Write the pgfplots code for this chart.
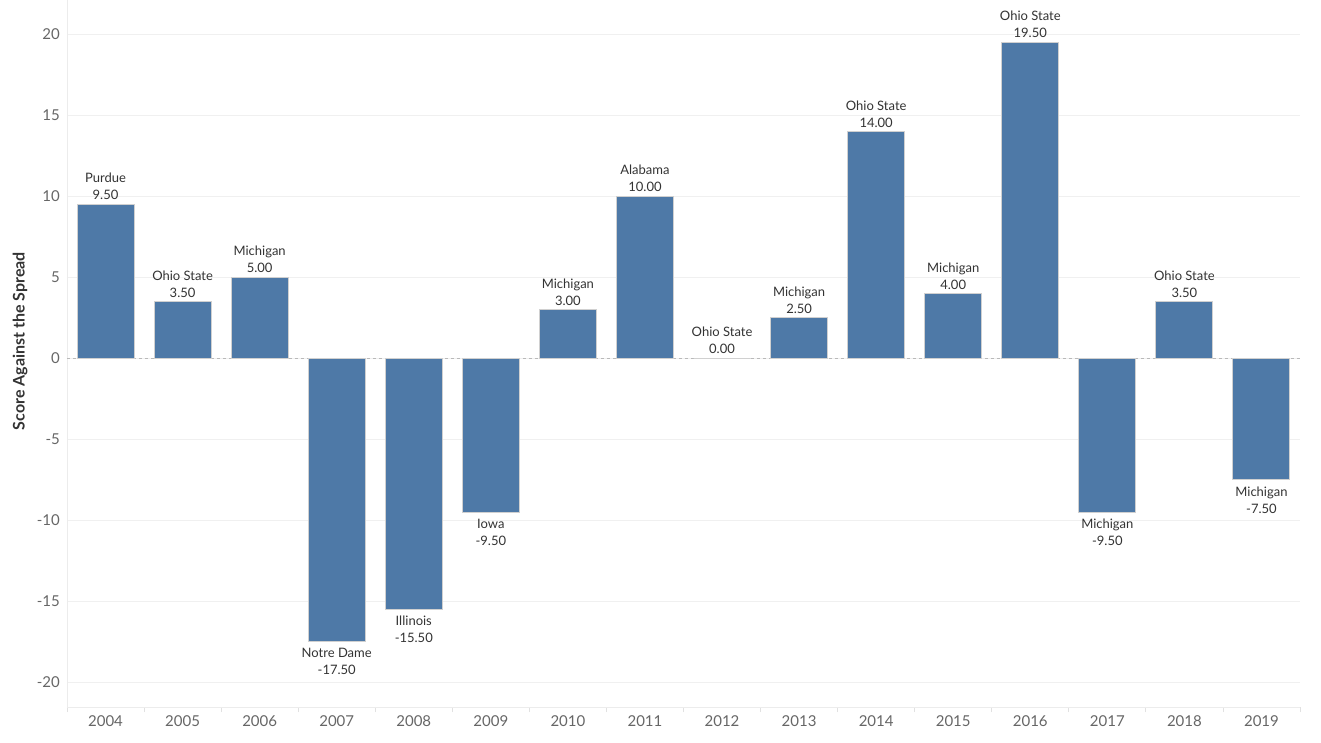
\documentclass[border=0pt]{standalone}
\usepackage{pgfplots}
\pgfplotsset{compat=1.18}
\usepackage{pgfplotstable}
\usepackage{fontspec}
\setmainfont{Lato}

\definecolor{barblue}{HTML}{4E79A7}
\definecolor{baredge}{HTML}{D0D0D0}
\definecolor{ticktext}{HTML}{666666}
\definecolor{labtext}{HTML}{333333}
\definecolor{gridc}{HTML}{F0F0F0}

% year index, score, opponent (games the spread was covered or pushed)
\pgfplotstableread[col sep=comma]{
x,y,team
0,9.5,Purdue
1,3.5,Ohio State
2,5,Michigan
6,3,Michigan
7,10,Alabama
8,0,Ohio State
9,2.5,Michigan
10,14,Ohio State
11,4,Michigan
12,19.5,Ohio State
14,3.5,Ohio State
}\spreadpos

% games the spread was missed
\pgfplotstableread[col sep=comma]{
x,y,team
3,-17.5,Notre Dame
4,-15.5,Illinois
5,-9.5,Iowa
13,-9.5,Michigan
15,-7.5,Michigan
}\spreadneg

\begin{document}
\begin{tikzpicture}
\path (0,0) rectangle (1321pt,742pt);
\begin{axis}[
    at={(67pt,35pt)}, anchor=south west,
    scale only axis,
    width=1233pt, height=707pt,
    ybar, bar width=57pt, bar shift=0pt,
    xmin=-0.5, xmax=15.5,
    ymin=-21.54, ymax=22.1,
    xtick={0,...,15},
    xticklabels={2004,2005,2006,2007,2008,2009,2010,2011,2012,2013,2014,2015,2016,2017,2018,2019},
    minor xtick={-0.5,0.5,...,15.5},
    ytick={-20,-15,...,20},
    major tick length=0pt,
    minor tick length=5pt,
    tick align=outside,
    minor tick style={gridc!60!gray!50, line width=0.8pt},
    axis x line*=bottom, axis y line*=left,
    axis line style={gridc!70!gray!40, line width=0.8pt},
    ymajorgrids,
    major grid style={gridc, line width=0.8pt},
    extra y ticks={0}, extra y tick labels={},
    extra y tick style={grid=major, major grid style={gray!55, dashed, line width=0.7pt}},
    /pgf/number format/assume math mode=true,
    ticklabel style={font=\fontsize{15}{18}\selectfont, text=ticktext},
    yticklabel style={inner sep=0pt, xshift=-7pt},
    xticklabel style={inner sep=0pt, yshift=-8pt},
    ylabel={Score Against the Spread},
    ylabel style={at={(axis description cs:-0.038,0.518)}, anchor=center,
        font=\bfseries\fontsize{16}{18}\selectfont, text=labtext},
    point meta=explicit symbolic,
    nodes near coords={\pgfplotspointmeta\\\pgfmathprintnumber[fixed,fixed zerofill,precision=2,assume math mode=true]{\pgfkeysvalueof{/data point/y}}},
    every node near coord/.append style={align=center,
        font=\fontsize{13}{17}\selectfont, text=labtext, inner sep=4pt},
]
\addplot[fill=barblue, draw=baredge, line width=1pt,
    nodes near coords style={anchor=south}]
    table[x=x, y=y, meta=team] {\spreadpos};
\addplot[fill=barblue, draw=baredge, line width=1pt,
    nodes near coords style={anchor=north, yshift=-2pt}]
    table[x=x, y=y, meta=team] {\spreadneg};
\end{axis}
\end{tikzpicture}
\end{document}
